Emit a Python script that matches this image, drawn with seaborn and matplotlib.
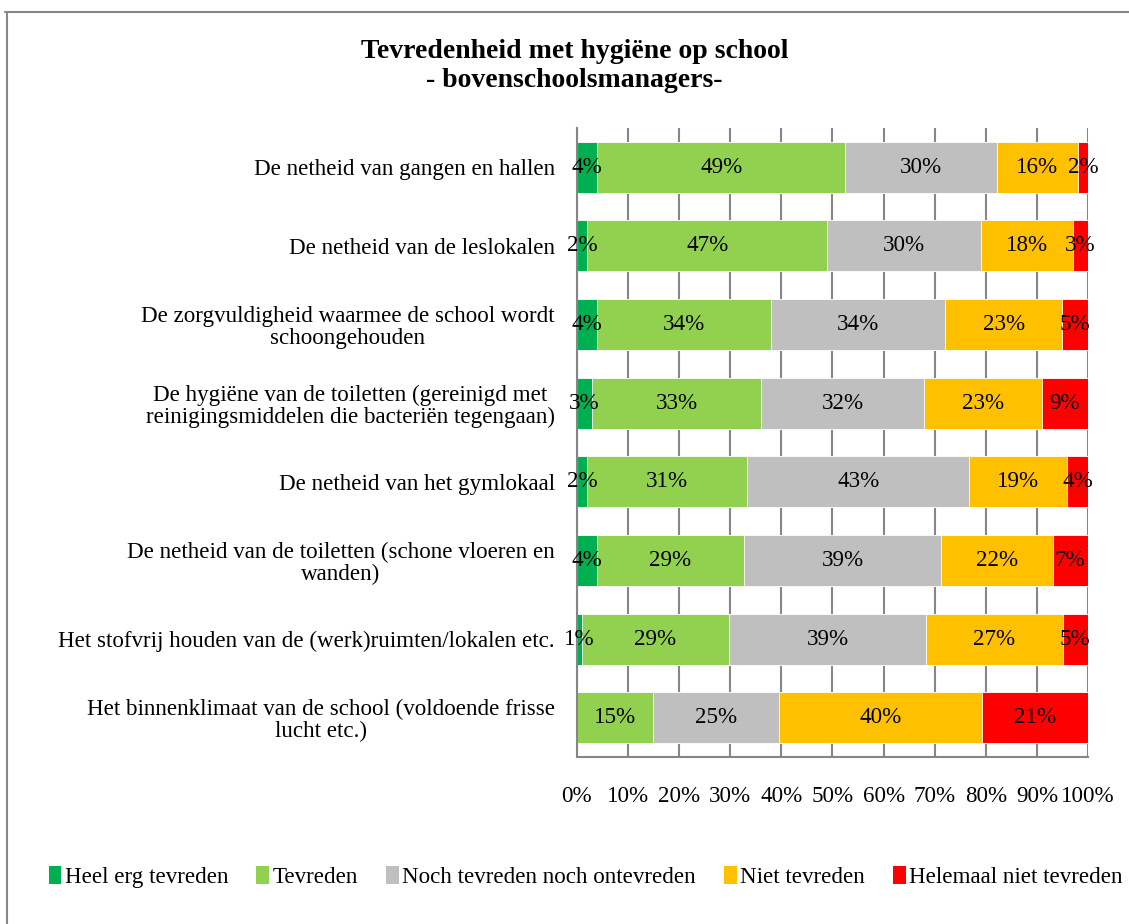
import numpy as np
import pandas as pd
import seaborn as sns
import matplotlib
matplotlib.use('Agg')
from matplotlib import pyplot as plt
from matplotlib.patches import Patch
from matplotlib.lines import Line2D

# Data (percentages per answer category)
items = [
    'De netheid van gangen en hallen',
    'De netheid van de leslokalen',
    'De zorgvuldigheid waarmee de school wordt\nschoongehouden',
    'De hygiëne van de toiletten (gereinigd met\nreinigingsmiddelen die bacteriën tegengaan)',
    'De netheid van het gymlokaal',
    'De netheid van de toiletten (schone vloeren en\nwanden)',
    'Het stofvrij houden van de (werk)ruimten/lokalen etc.',
    'Het binnenklimaat van de school (voldoende frisse\nlucht etc.)',
]
answers = ['Heel erg tevreden', 'Tevreden', 'Noch tevreden noch ontevreden',
           'Niet tevreden', 'Helemaal niet tevreden']
heel_erg = [4, 2, 4, 3, 2, 4, 1, 0]
tevreden = [49, 47, 34, 33, 31, 29, 29, 15]
noch = [30, 30, 34, 32, 43, 39, 39, 25]
niet = [16, 18, 23, 23, 19, 22, 27, 40]
helemaal_niet = [2, 3, 5, 9, 4, 7, 5, 21]
colors = ['#00B050', '#92D050', '#BFBFBF', '#FFC000', '#FF0000']

df = pd.DataFrame({'item': items, answers[0]: heel_erg, answers[1]: tevreden,
                   answers[2]: noch, answers[3]: niet, answers[4]: helemaal_niet})
vals = df[answers].astype(float)
share = vals.div(vals.sum(axis=1), axis=0) * 100
cum = share.cumsum(axis=1)

sns.set_style('white')
plt.rcParams['font.family'] = ['Liberation Serif', 'DejaVu Serif']
plt.rcParams['text.color'] = 'black'
plt.rcParams['xtick.color'] = 'black'
plt.rcParams['ytick.color'] = 'black'

fs = 16.6

fig = plt.figure(figsize=(11.29, 9.24), dpi=100)
ax = fig.add_axes([0.511, 0.1807, 0.4527, 0.6808])

# stacked bars: draw cumulative totals from the right-most layer down
for i in range(len(answers) - 1, -1, -1):
    sns.barplot(x=cum[answers[i]], y=df['item'], orient='h', color=colors[i],
                width=0.65, ax=ax, saturation=1, edgecolor='white', linewidth=0.6,
                zorder=2)

# segment labels
for r in range(len(items)):
    for i, a in enumerate(answers):
        v = vals.iloc[r][a]
        if v <= 0:
            continue
        mid = cum.iloc[r][a] - share.iloc[r][a] / 2
        ax.text(mid, r, f'{int(v)}%', ha='center', va='center', fontsize=fs,
                color='black', zorder=3)

ax.set_xlim(0, 100)
ax.set_ylim(len(items) - 0.5, -0.5)
ax.set_xticks(np.arange(0, 101, 10))
ax.set_xticklabels([f'{t}%' for t in range(0, 101, 10)])
ax.grid(axis='x', color='#868686', linewidth=1.5, zorder=0)
ax.set_axisbelow(True)
ax.set_xlabel('')
ax.set_ylabel('')
for s in ['top', 'right']:
    ax.spines[s].set_visible(False)
for s in ['left', 'bottom']:
    ax.spines[s].set_color('#868686')
    ax.spines[s].set_linewidth(1.5)
ax.tick_params(axis='x', length=0, pad=21, labelsize=fs)
ax.tick_params(axis='y', length=0, pad=16, labelsize=fs)
for lab in ax.get_yticklabels():
    lab.set_multialignment('center')
    lab.set_linespacing(1.05)

fig.text(0.509, 0.958, 'Tevredenheid met hygiëne op school\n- bovenschoolsmanagers-',
         ha='center', va='top', fontsize=20, fontweight='bold', linespacing=1.22)

handles = [Patch(facecolor=c, edgecolor='none') for c in colors]
fig.legend(handles, answers, loc='center', bbox_to_anchor=(0.5186, 0.051), ncol=5,
           frameon=False, fontsize=fs, handlelength=0.55, handleheight=0.8,
           handletextpad=0.15, columnspacing=1.22)

# chart frame (top and left edges visible)
fig.add_artist(Line2D([0.004, 1.0], [0.987, 0.987], color='#868686', linewidth=1.5,
                      transform=fig.transFigure))
fig.add_artist(Line2D([0.0065, 0.0065], [0.0, 0.987], color='#868686', linewidth=1.5,
                      transform=fig.transFigure))

fig.savefig('out.png', dpi=100)
